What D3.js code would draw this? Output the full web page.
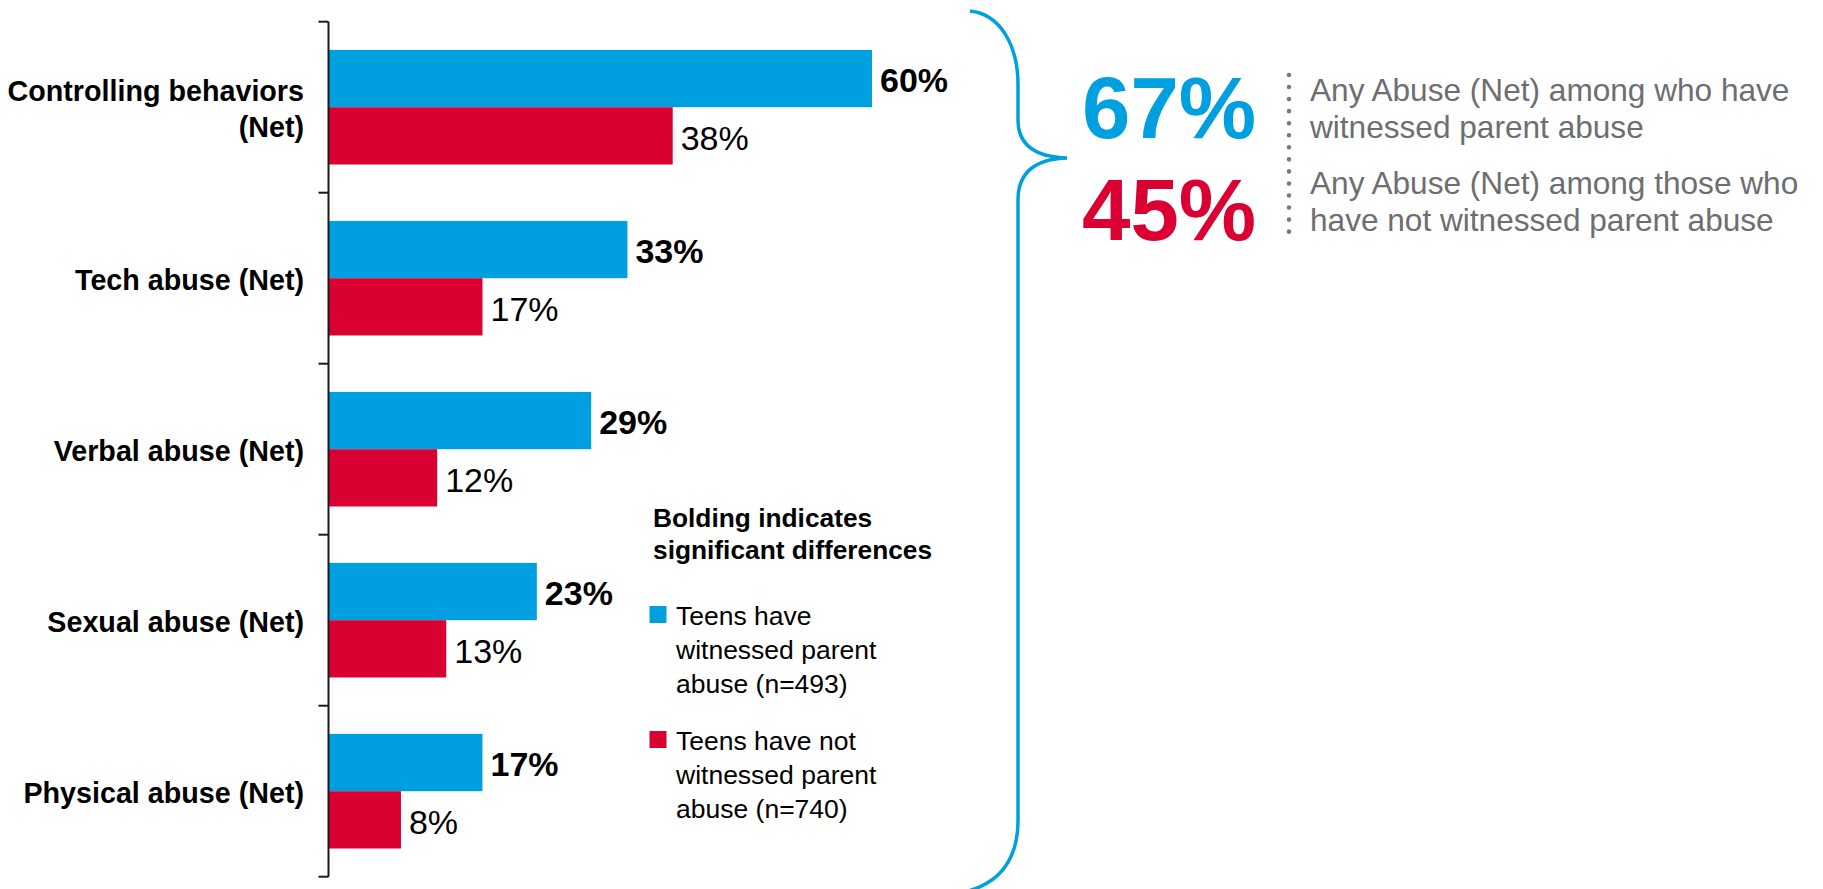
<!DOCTYPE html>
<html>
<head>
<meta charset="utf-8">
<script src="https://cdn.jsdelivr.net/npm/d3@7"></script>
<style>
  html, body { margin: 0; padding: 0; background: #ffffff; }
  svg { display: block; font-family: "Liberation Sans", Arial, Helvetica, sans-serif; }
</style>
</head>
<body>
<svg id="chart" width="1823" height="889"></svg>
<script>
// ---------- data ----------
const categories = ["Controlling behaviors (Net)", "Tech abuse (Net)", "Verbal abuse (Net)", "Sexual abuse (Net)", "Physical abuse (Net)"];
const categoryLines = [["Controlling behaviors", "(Net)"], ["Tech abuse (Net)"], ["Verbal abuse (Net)"], ["Sexual abuse (Net)"], ["Physical abuse (Net)"]];
const seriesNames = ["Teens have witnessed parent abuse (n=493)", "Teens have not witnessed parent abuse (n=740)"];
const legendLines = [["Teens have", "witnessed parent", "abuse (n=493)"], ["Teens have not", "witnessed parent", "abuse (n=740)"]];
const witnessed = [60, 33, 29, 23, 17];
const notWitnessed = [38, 17, 12, 13, 8];
const witnessedBold = [true, true, true, true, true];
const notWitnessedBold = [false, false, false, false, false];
const legendTitle = ["Bolding indicates", "significant differences"];
const anyAbuse = [67, 45];
const anyAbuseText = [["Any Abuse (Net) among who have", "witnessed parent abuse"], ["Any Abuse (Net) among those who", "have not witnessed parent abuse"]];

// ---------- styles ----------
const BLUE = "#00A0E0";
const RED = "#DB0032";
const GRAY = "#6D6E71";
const colors = [BLUE, RED];

const svg = d3.select("#chart");

const x = d3.scaleLinear().domain([0, 100]).range([328.5, 1234.3]);
const y = d3.scaleBand().domain(categories).range([21.7, 876.7]).paddingInner(0.33).paddingOuter(0.165);
const sub = d3.scaleBand().domain([0, 1]).range([0, y.bandwidth()]);

const rows = categories.map((c, i) => ({
  cat: c, lines: categoryLines[i],
  vals: [
    { s: 0, v: witnessed[i], bold: witnessedBold[i] },
    { s: 1, v: notWitnessed[i], bold: notWitnessedBold[i] }
  ]
}));

// bars
const g = svg.append("g");
const groups = g.selectAll("g.row").data(rows).join("g")
  .attr("class", "row")
  .attr("transform", d => `translate(0,${y(d.cat)})`);

groups.selectAll("rect").data(d => d.vals).join("rect")
  .attr("x", x(0))
  .attr("y", d => sub(d.s))
  .attr("width", d => x(d.v) - x(0))
  .attr("height", sub.bandwidth())
  .attr("fill", d => colors[d.s]);

groups.selectAll("text.val").data(d => d.vals).join("text")
  .attr("class", "val")
  .attr("x", d => x(d.v) + 8)
  .attr("y", d => sub(d.s) + sub.bandwidth() / 2 + 1.5)
  .attr("dy", "0.36em")
  .attr("font-size", 34)
  .attr("font-weight", d => d.bold ? "bold" : "normal")
  .attr("fill", "#000")
  .text(d => d.v + "%");

// axis: line and ticks at category boundaries
const step = y.step();
const r0 = y.range()[0];
const boundaries = d3.range(categories.length + 1).map(i => r0 + i * step);
const axisG = svg.append("g");
axisG.append("line")
  .attr("x1", x(0)).attr("x2", x(0))
  .attr("y1", boundaries[0]).attr("y2", boundaries[boundaries.length - 1])
  .attr("stroke", "#1a1a1a").attr("stroke-width", 2);
axisG.selectAll("line.tick").data(boundaries).join("line")
  .attr("class", "tick")
  .attr("x1", x(0) - 10).attr("x2", x(0))
  .attr("y1", d => d).attr("y2", d => d)
  .attr("stroke", "#1a1a1a").attr("stroke-width", 2);

// category labels
const labG = svg.append("g");
labG.selectAll("text").data(rows).join("text")
  .attr("text-anchor", "end")
  .attr("font-size", 28.7)
  .attr("font-weight", "bold")
  .attr("fill", "#000")
  .each(function(d) {
    const t = d3.select(this);
    const lh = 36;
    const cy = y(d.cat) + y.bandwidth() / 2;
    const first = cy + 11.5 - (d.lines.length - 1) * lh / 2;
    d.lines.forEach((ln, k) => {
      t.append("tspan").attr("x", 304).attr("y", first + k * lh).text(ln);
    });
  });

// legend
const leg = svg.append("g");
leg.selectAll("text.title").data(legendTitle).join("text")
  .attr("class", "title")
  .attr("x", 653).attr("y", (d, i) => 527 + i * 32)
  .attr("font-size", 26.3).attr("font-weight", "bold").attr("fill", "#000")
  .text(d => d);
const items = leg.selectAll("g.item").data(seriesNames).join("g")
  .attr("class", "item")
  .attr("transform", (d, i) => `translate(0,${i * 125})`);
items.append("rect")
  .attr("x", 649.5).attr("y", 606).attr("width", 17).attr("height", 17)
  .attr("fill", (d, i) => colors[i]);
items.append("text")
  .attr("font-size", 26.5).attr("fill", "#000")
  .each(function(d, i) {
    const t = d3.select(this);
    legendLines[i].forEach((ln, k) => {
      t.append("tspan").attr("x", 676).attr("y", 625 + k * 34).text(ln);
    });
  });

// brace
svg.append("path")
  .attr("d", "M970,11 C1000,14 1018,45 1018,85 L1018,120 C1018,145 1035,157 1067,158 C1035,159 1018,172 1018,200 L1018,820 C1018,860 1000,885 960,893")
  .attr("fill", "none").attr("stroke", BLUE).attr("stroke-width", 3.5);

// big numbers
const big = svg.append("g");
big.selectAll("text").data(anyAbuse).join("text")
  .attr("x", 1082)
  .attr("y", (d, i) => [138, 240][i])
  .attr("font-size", 87).attr("font-weight", "bold")
  .attr("fill", (d, i) => colors[i])
  .text(d => d + "%");

// dotted separator
svg.append("line")
  .attr("x1", 1289).attr("x2", 1289).attr("y1", 75).attr("y2", 233)
  .attr("stroke", "#7a7a7a").attr("stroke-width", 4.6)
  .attr("stroke-linecap", "round").attr("stroke-dasharray", "0 12.05");

// gray descriptions
const desc = svg.append("g");
desc.selectAll("text").data(anyAbuseText).join("text")
  .attr("font-size", 31.6).attr("fill", GRAY)
  .each(function(d, i) {
    const t = d3.select(this);
    const base = [101, 194][i];
    d.forEach((ln, k) => {
      t.append("tspan").attr("x", 1310).attr("y", base + k * 37).text(ln);
    });
  });
</script>
</body>
</html>
